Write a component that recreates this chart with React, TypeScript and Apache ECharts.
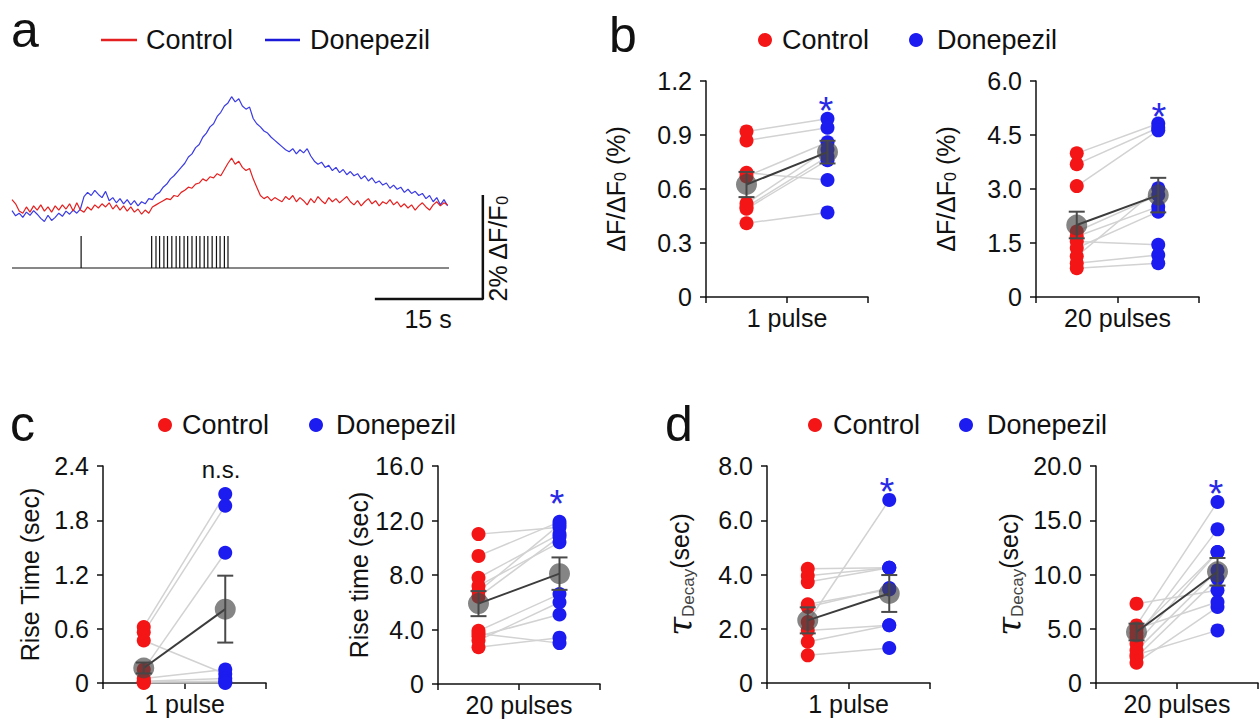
import React, { useEffect, useRef } from 'react';
import * as echarts from 'echarts';

const FONT = '"Liberation Sans", Arial, Helvetica, sans-serif';
const RED = '#f41616';
const BLUE = '#1c1cf0';
const TRACE_RED = '#e42020';
const TRACE_BLUE = '#3b3be4';
const MEAN_FILL = 'rgba(68,68,68,0.82)';
const PAIR_GREY = '#d2d2d2';
const INK = '#111111';

// ---------- panel a : traces (ΔF/F0 %, sampled every 0.5 s) ----------
const DT = 0.5;
const TRACE_DON = [
  -0.05, -0.15, -0.10, -0.18, -0.08, -0.14, -0.05, -0.12, -0.20, -0.26,
  -0.14, -0.24, -0.18, -0.10, -0.16, -0.06, -0.12, -0.04, -0.10, -0.02,
  0.22, 0.30, 0.24, 0.34, 0.26, 0.20, 0.32, 0.14, 0.20, 0.10,
  0.18, 0.08, 0.16, 0.06, 0.14, 0.04, 0.12, 0.08, 0.18, 0.16,
  0.26, 0.30, 0.40, 0.46, 0.56, 0.62, 0.70, 0.78, 0.86, 0.98,
  1.04, 1.16, 1.22, 1.36, 1.44, 1.56, 1.62, 1.76, 1.84, 1.96,
  2.02, 2.14, 2.04, 2.10, 1.96, 1.90, 1.94, 1.72, 1.62, 1.56,
  1.48, 1.44, 1.36, 1.30, 1.24, 1.18, 1.12, 1.08, 1.14, 1.04,
  1.12, 1.06, 1.14, 1.00, 0.90, 0.84, 0.88, 0.78, 0.82, 0.72,
  0.78, 0.68, 0.74, 0.64, 0.70, 0.62, 0.66, 0.56, 0.62, 0.52,
  0.58, 0.48, 0.52, 0.44, 0.48, 0.38, 0.44, 0.36, 0.40, 0.30,
  0.36, 0.28, 0.32, 0.24, 0.28, 0.18, 0.24, 0.12, 0.20, 0.06,
  0.16, 0.04,
];
const TRACE_CTRL = [
  0.16, 0.08, -0.06, -0.10, 0.02, -0.08, 0.04, -0.04, 0.06, -0.06,
  0.02, -0.08, 0.04, -0.04, 0.06, -0.02, 0.08, -0.06, 0.10, -0.04,
  -0.08, 0.02, -0.04, 0.06, 0.00, 0.08, 0.02, 0.10, -0.02, 0.06,
  -0.04, 0.04, -0.06, 0.02, -0.08, -0.02, -0.12, -0.04, -0.10, 0.02,
  0.06, 0.10, 0.14, 0.18, 0.16, 0.24, 0.22, 0.30, 0.34, 0.40,
  0.38, 0.46, 0.48, 0.56, 0.52, 0.60, 0.58, 0.66, 0.62, 0.74,
  0.86, 0.96, 0.84, 0.90, 0.78, 0.72, 0.76, 0.56, 0.40, 0.24,
  0.18, 0.22, 0.14, 0.20, 0.16, 0.12, 0.22, 0.16, 0.24, 0.12,
  0.20, 0.14, 0.06, 0.18, 0.10, 0.22, 0.14, 0.08, 0.20, 0.12,
  0.18, 0.10, 0.16, 0.22, 0.12, 0.06, 0.14, 0.04, 0.12, 0.18,
  0.08, 0.14, 0.04, 0.12, 0.08, 0.16, 0.06, 0.12, 0.02, 0.08,
  0.00, 0.06, -0.04, 0.04, 0.10, 0.02, -0.04, 0.06, 0.12, 0.04,
  0.10, 0.06,
];
// stimulus pulse times (s)
const PULSE_SINGLE = [9.6];
const PULSE_TRAIN = [
  19.4, 20.0, 20.5, 21.1, 21.6, 22.2, 22.8, 23.3, 23.9, 24.4,
  25.0, 25.6, 26.1, 26.7, 27.2, 27.8, 28.4, 28.9, 29.5, 30.0,
];
const STIM_END = 60.7;
const SCALE_T = 15; // s
const SCALE_PCT = 2; // %
const SCALE_T0 = 50.4;
const T_MAX = 65.56;
const V_MIN = -1.75;
const V_MAX = 2.48;

// ---------- paired dot plots ----------
const X_POS = [0.5, 1.5];

const B1_CTRL = [0.92, 0.87, 0.69, 0.67, 0.52, 0.50, 0.49, 0.41];
const B1_DON = [0.99, 0.94, 0.65, 0.86, 0.82, 0.78, 0.76, 0.47];
const B1_MEAN = [0.625, 0.805];
const B1_SEM = [0.07, 0.063];

const B20_CTRL = [3.99, 3.69, 3.08, 1.82, 1.68, 1.54, 1.36, 1.13, 0.94, 0.80];
const B20_DON = [4.82, 4.70, 4.63, 2.83, 2.51, 1.45, 2.37, 3.02, 1.17, 0.94];
const B20_MEAN = [2.0, 2.83];
const B20_SEM = [0.37, 0.48];

const C1_CTRL = [0.62, 0.56, 0.15, 0.47, 0.05, 0.02, 0.01, 0.0];
const C1_DON = [2.09, 1.96, 1.44, 0.10, 0.15, 0.05, 0.02, 0.0];
const C1_MEAN = [0.166, 0.817];
const C1_SEM = [0.06, 0.37];

const C20_CTRL = [11.0, 9.4, 7.8, 7.2, 6.8, 6.4, 3.9, 3.5, 3.2, 2.7, 3.7];
const C20_DON = [11.5, 11.9, 11.0, 10.4, 11.7, 10.8, 6.6, 5.1, 6.0, 3.4, 3.0];
const C20_MEAN = [5.9, 8.1];
const C20_SEM = [0.92, 1.19];

const D1_CTRL = [2.25, 3.95, 4.21, 2.9, 2.8, 1.94, 1.52, 1.02, 3.72];
const D1_DON = [6.75, 4.25, 4.25, 3.45, 3.50, 2.13, 2.13, 1.29, 4.25];
const D1_MEAN = [2.31, 3.3];
const D1_SEM = [0.48, 0.68];

const D20_CTRL = [7.31, 5.31, 4.24, 3.62, 3.01, 2.40, 1.87, 5.0, 4.6, 2.6];
const D20_DON = [8.54, 16.68, 14.16, 12.07, 10.38, 9.62, 7.00, 7.47, 12.07, 4.85];
const D20_MEAN = [4.7, 10.25];
const D20_SEM = [0.77, 1.27];

const RICH_NAME: any = {
  t: { fontSize: 25, fontFamily: FONT, color: INK },
  s: { fontSize: 16, fontFamily: FONT, color: INK, verticalAlign: 'bottom' },
  tau: { fontSize: 34, fontFamily: '"DejaVu Serif", serif', fontStyle: 'italic', color: INK },
  d: { fontSize: 17, fontFamily: FONT, color: '#444', verticalAlign: 'bottom' },
};

type Panel = {
  left: number; top: number; width: number; height: number;
  yMax: number; yInterval: number;
  ctrl: number[]; don: number[]; mean: number[]; sem: number[];
  yName: string; xName: string; nameGap: number;
};

const PANELS: Panel[] = [
  { left: 706, top: 81, width: 162, height: 216, yMax: 1.2, yInterval: 0.3,
    ctrl: B1_CTRL, don: B1_DON, mean: B1_MEAN, sem: B1_SEM,
    yName: '{t|ΔF/ΔF}{s|0}{t| (%)}', xName: '1 pulse', nameGap: 78 },
  { left: 1036, top: 81, width: 163, height: 216, yMax: 6, yInterval: 1.5,
    ctrl: B20_CTRL, don: B20_DON, mean: B20_MEAN, sem: B20_SEM,
    yName: '{t|ΔF/ΔF}{s|0}{t| (%)}', xName: '20 pulses', nameGap: 78 },
  { left: 103, top: 466, width: 163, height: 217, yMax: 2.4, yInterval: 0.6,
    ctrl: C1_CTRL, don: C1_DON, mean: C1_MEAN, sem: C1_SEM,
    yName: '{t|Rise Time (sec)}', xName: '1 pulse', nameGap: 61 },
  { left: 438, top: 466, width: 162, height: 218, yMax: 16, yInterval: 4,
    ctrl: C20_CTRL, don: C20_DON, mean: C20_MEAN, sem: C20_SEM,
    yName: '{t|Rise time (sec)}', xName: '20 pulses', nameGap: 66 },
  { left: 767, top: 466, width: 163, height: 217, yMax: 8, yInterval: 2,
    ctrl: D1_CTRL, don: D1_DON, mean: D1_MEAN, sem: D1_SEM,
    yName: '{tau|τ}{d|Decay}{t|(sec)}', xName: '1 pulse', nameGap: 70 },
  { left: 1096, top: 466, width: 162, height: 217, yMax: 20, yInterval: 5,
    ctrl: D20_CTRL, don: D20_DON, mean: D20_MEAN, sem: D20_SEM,
    yName: '{tau|τ}{d|Decay}{t|(sec)}', xName: '20 pulses', nameGap: 70 },
];

function txt(text: string, x: number, y: number, size: number, opts: any = {}) {
  const align = opts.align || 'left';
  return {
    type: 'text', x, y, rotation: opts.rotation || 0, silent: true,
    style: {
      text, fill: opts.fill || INK, fontSize: size, fontFamily: opts.fontFamily || FONT,
      align, textAlign: align, verticalAlign: 'middle', textVerticalAlign: 'middle',
      rich: opts.rich,
    },
  };
}

function buildOption() {
  const grids: any[] = [];
  const xAxes: any[] = [];
  const yAxes: any[] = [];
  const series: any[] = [];

  // panel a trace grid
  grids.push({ left: 12, top: 79, width: 472, height: 220 });
  xAxes.push({ gridIndex: 0, type: 'value', min: 0, max: T_MAX, show: false });
  yAxes.push({ gridIndex: 0, type: 'value', min: V_MIN, max: V_MAX, show: false });
  // stimulus grid
  grids.push({ left: 12, top: 236, width: 472, height: 32 });
  xAxes.push({ gridIndex: 1, type: 'value', min: 0, max: T_MAX, show: false });
  yAxes.push({ gridIndex: 1, type: 'value', min: 0, max: 1, show: false });

  series.push({
    type: 'line', xAxisIndex: 0, yAxisIndex: 0, symbol: 'none', silent: true,
    data: TRACE_DON.map((v, i) => [i * DT, v]),
    lineStyle: { color: TRACE_BLUE, width: 1.2 },
  });
  series.push({
    type: 'line', xAxisIndex: 0, yAxisIndex: 0, symbol: 'none', silent: true,
    data: TRACE_CTRL.map((v, i) => [i * DT, v]),
    lineStyle: { color: TRACE_RED, width: 1.2 },
  });
  series.push({
    type: 'line', xAxisIndex: 0, yAxisIndex: 0, symbol: 'none', silent: true, clip: false,
    data: [[SCALE_T0, V_MIN], [SCALE_T0 + SCALE_T, V_MIN], [SCALE_T0 + SCALE_T, V_MIN + SCALE_PCT]],
    lineStyle: { color: INK, width: 2.5 },
  });
  const stim: number[][] = [[0, 0]];
  [...PULSE_SINGLE, ...PULSE_TRAIN].forEach((p) => { stim.push([p, 0], [p, 1], [p, 0]); });
  stim.push([STIM_END, 0]);
  series.push({
    type: 'line', xAxisIndex: 1, yAxisIndex: 1, symbol: 'none', silent: true, clip: false,
    data: stim, lineStyle: { color: INK, width: 1.2 },
  });

  PANELS.forEach((p, k) => {
    const idx = k + 2;
    grids.push({ left: p.left, top: p.top, width: p.width, height: p.height });
    const axisLine = { show: true, onZero: false, lineStyle: { color: INK, width: 1.5 } };
    const axisTick = { show: true, length: 6, lineStyle: { color: INK, width: 1.5 } };
    xAxes.push({
      gridIndex: idx, type: 'value', min: 0, max: 2, interval: 1,
      axisLine, axisTick, axisLabel: { show: false }, splitLine: { show: false },
      name: p.xName, nameLocation: 'middle', nameGap: 8,
      nameTextStyle: { fontSize: 25, color: INK, fontFamily: FONT },
    });
    yAxes.push({
      gridIndex: idx, type: 'value', min: 0, max: p.yMax, interval: p.yInterval,
      axisLine, axisTick, splitLine: { show: false },
      axisLabel: {
        fontSize: 25, color: INK, fontFamily: FONT, margin: 14,
        formatter: (v: number) => (v === 0 ? '0' : v.toFixed(1)),
      },
      name: p.yName, nameLocation: 'middle', nameGap: p.nameGap,
      nameTextStyle: { fontSize: 25, color: INK, fontFamily: FONT, rich: RICH_NAME },
    });
    series.push({
      type: 'lines', coordinateSystem: 'cartesian2d', xAxisIndex: idx, yAxisIndex: idx,
      silent: true, z: 1,
      data: p.ctrl.map((c, i) => ({ coords: [[X_POS[0], c], [X_POS[1], p.don[i]]] })),
      lineStyle: { color: PAIR_GREY, width: 1.5, opacity: 1 },
    });
    series.push({
      type: 'scatter', xAxisIndex: idx, yAxisIndex: idx, silent: true, z: 2, clip: false,
      symbolSize: 14, data: p.ctrl.map((v) => [X_POS[0], v]), itemStyle: { color: RED, opacity: 1 },
    });
    series.push({
      type: 'scatter', xAxisIndex: idx, yAxisIndex: idx, silent: true, z: 2, clip: false,
      symbolSize: 14, data: p.don.map((v) => [X_POS[1], v]), itemStyle: { color: BLUE, opacity: 1 },
    });
    series.push({
      type: 'line', xAxisIndex: idx, yAxisIndex: idx, silent: true, z: 3, symbol: 'none',
      data: X_POS.map((x, i) => [x, p.mean[i]]),
      lineStyle: { color: '#3c3c3c', width: 2 },
    });
    series.push({
      type: 'custom', xAxisIndex: idx, yAxisIndex: idx, silent: true, z: 4,
      data: X_POS.map((x, i) => [x, p.mean[i] - p.sem[i], p.mean[i] + p.sem[i]]),
      encode: { x: 0, y: [1, 2] },
      renderItem: (_params: any, api: any) => {
        const x = api.value(0);
        const a = api.coord([x, api.value(1)]);
        const b = api.coord([x, api.value(2)]);
        const w = 8;
        const style = { stroke: '#4a4a4a', lineWidth: 2 };
        return {
          type: 'group',
          children: [
            { type: 'line', shape: { x1: a[0], y1: a[1], x2: b[0], y2: b[1] }, style },
            { type: 'line', shape: { x1: a[0] - w, y1: a[1], x2: a[0] + w, y2: a[1] }, style },
            { type: 'line', shape: { x1: b[0] - w, y1: b[1], x2: b[0] + w, y2: b[1] }, style },
          ],
        };
      },
    });
    series.push({
      type: 'scatter', xAxisIndex: idx, yAxisIndex: idx, silent: true, z: 5, clip: false,
      symbolSize: 21, data: X_POS.map((x, i) => [x, p.mean[i]]),
      itemStyle: { color: MEAN_FILL },
    });
  });

  const legendDots = (y: number, rx: number, tx: number, bx: number, btx: number) => [
    { type: 'circle', silent: true, shape: { cx: rx, cy: y, r: 7 }, style: { fill: RED } },
    txt('Control', tx, y, 27),
    { type: 'circle', silent: true, shape: { cx: bx, cy: y, r: 7 }, style: { fill: BLUE } },
    txt('Donepezil', btx, y, 27),
  ];

  const star = (x: number, y: number) => txt('*', x, y + 8, 38, { align: 'center', fill: '#2a2ae6' });

  const graphic: any[] = [
    txt('a', 11, 30, 50),
    txt('b', 609, 35, 50),
    txt('c', 10, 424, 50),
    txt('d', 665, 424, 50),
    { type: 'line', silent: true, shape: { x1: 101, y1: 40, x2: 137, y2: 40 }, style: { stroke: TRACE_RED, lineWidth: 2.5 } },
    txt('Control', 146, 40, 27),
    { type: 'line', silent: true, shape: { x1: 265, y1: 40, x2: 300, y2: 40 }, style: { stroke: '#1a1ad8', lineWidth: 2.5 } },
    txt('Donepezil', 310, 40, 27),
    ...legendDots(40, 765, 782, 916, 937),
    ...legendDots(425, 165, 182, 316, 336),
    ...legendDots(425, 815, 833, 966, 987),
    txt('15 s', 428, 319, 25, { align: 'center' }),
    txt('{t|2% ΔF/F}{s|0}', 498, 249, 25, { align: 'center', rotation: Math.PI / 2, rich: RICH_NAME }),
    txt('n.s.', 221, 469, 24, { align: 'center' }),
    star(826, 103),
    star(1159, 109),
    star(557, 496),
    star(887, 484),
    star(1216, 486),
  ];

  return {
    animation: false,
    backgroundColor: '#ffffff',
    textStyle: { fontFamily: FONT },
    grid: grids,
    xAxis: xAxes,
    yAxis: yAxes,
    series,
    graphic: { elements: graphic },
  };
}

export default function App() {
  const ref = useRef<HTMLDivElement>(null);
  useEffect(() => {
    if (!ref.current) return;
    const chart = echarts.init(ref.current, undefined, { renderer: 'svg' });
    chart.setOption(buildOption() as any);
    return () => chart.dispose();
  }, []);
  return (
    <div
      ref={ref}
      style={{ position: 'absolute', left: 0, top: 0, width: 1260, height: 721, background: '#fff' }}
    />
  );
}
